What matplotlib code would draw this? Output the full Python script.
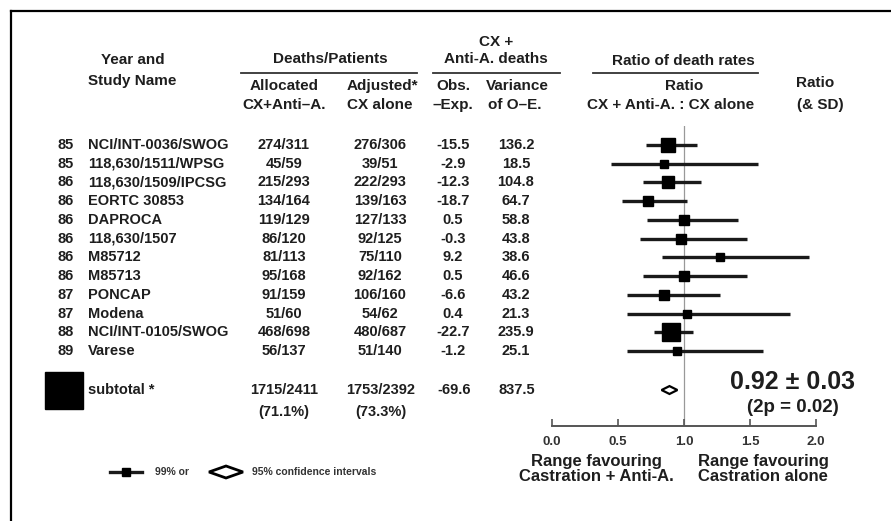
import matplotlib.pyplot as plt
import matplotlib.transforms as mtransforms
from matplotlib.patches import Rectangle, Polygon

plt.rcParams['font.family'] = ['Liberation Sans', 'DejaVu Sans']
plt.rcParams['font.weight'] = 'bold'

# data
years = ["85", "85", "86", "86", "86", "86", "86", "86", "87", "87", "88", "89"]
studies = ["NCI/INT-0036/SWOG", "118,630/1511/WPSG", "118,630/1509/IPCSG", "EORTC 30853",
           "DAPROCA", "118,630/1507", "M85712", "M85713", "PONCAP", "Modena",
           "NCI/INT-0105/SWOG", "Varese"]
allocated = ["274/311", "45/59", "215/293", "134/164", "119/129", "86/120", "81/113",
             "95/168", "91/159", "51/60", "468/698", "56/137"]
adjusted = ["276/306", "39/51", "222/293", "139/163", "127/133", "92/125", "75/110",
            "92/162", "106/160", "54/62", "480/687", "51/140"]
obs_exp = [-15.5, -2.9, -12.3, -18.7, 0.5, -0.3, 9.2, 0.5, -6.6, 0.4, -22.7, -1.2]
variance = [136.2, 18.5, 104.8, 64.7, 58.8, 43.8, 38.6, 46.6, 43.2, 21.3, 235.9, 25.1]
ratio = [0.88, 0.85, 0.88, 0.73, 1.00, 0.98, 1.27, 1.00, 0.85, 1.02, 0.90, 0.95]
ci_lo = [0.71, 0.45, 0.69, 0.53, 0.72, 0.67, 0.83, 0.69, 0.57, 0.57, 0.77, 0.57]
ci_hi = [1.10, 1.56, 1.13, 1.02, 1.41, 1.48, 1.95, 1.48, 1.27, 1.80, 1.07, 1.60]

sub_alloc = ["1715/2411", "(71.1%)"]
sub_adj = ["1753/2392", "(73.3%)"]
sub_oe = -69.6
sub_var = 837.5
sub_lo, sub_hi = 0.83, 0.95
sub_text = ["0.92 \u00b1 0.03", "(2p = 0.02)"]
ticks = [0.0, 0.5, 1.0, 1.5, 2.0]

W, H = 891, 521
fig = plt.figure(figsize=(W / 100, H / 100), dpi=100)

# overlay in pixel coordinates for the table text
bg = fig.add_axes([0, 0, 1, 1])
bg.set_xlim(0, W)
bg.set_ylim(H, 0)
bg.axis('off')

# forest plot axes
ax = fig.add_axes([552 / W, 1 - 426 / H, 264 / W, 300 / H])
ax.set_xlim(0, 2)
ax.set_ylim(15.0, -1.014)
ax.patch.set_alpha(0)
for s in ['left', 'right', 'top']:
    ax.spines[s].set_visible(False)
ax.spines['bottom'].set_color('#555555')
ax.spines['bottom'].set_linewidth(1.4)
ax.set_yticks([])
ax.set_xticks(ticks)
ax.set_xticklabels([f"{t:.1f}" for t in ticks])
ax.tick_params(axis='x', direction='in', length=5, width=1.2, color='#555555',
               labelsize=9.5, labelcolor='#333333', pad=7)

rows = list(range(len(studies)))
sub_row = 13.08

ax.axvline(1.0, color='#999999', lw=0.9, zorder=0)
ax.hlines(rows, ci_lo, ci_hi, color='#1a1a1a', lw=2.4, zorder=2)
for r, x, v in zip(rows, ratio, variance):
    side_px = 2.7 + v ** 0.5
    ax.plot(x, r, marker='s', ms=side_px * 0.72, color='black', mec='black', zorder=3)

mid = (sub_lo + sub_hi) / 2
h = 0.21
ax.add_patch(Polygon([(sub_lo, sub_row), (mid, sub_row - h), (sub_hi, sub_row), (mid, sub_row + h)],
                     closed=True, facecolor='white', edgecolor='black', lw=1.6, zorder=3))

# text in table: x in pixels, y in row units
tr = mtransforms.blended_transform_factory(bg.transData, ax.transData)
tc = '#1e1e1e'
fs = 10.5
for r in rows:
    bg.text(58, r, years[r], transform=tr, ha='left', va='center', fontsize=fs, color=tc)
    bg.text(88, r, studies[r], transform=tr, ha='left', va='center', fontsize=fs, color=tc)
    bg.text(284, r, allocated[r], transform=tr, ha='center', va='center', fontsize=fs, color=tc)
    bg.text(380, r, adjusted[r], transform=tr, ha='center', va='center', fontsize=fs, color=tc)
    bg.text(453, r, f"{obs_exp[r]:.1f}", transform=tr, ha='center', va='center', fontsize=fs, color=tc)
    bg.text(516, r, f"{variance[r]:.1f}", transform=tr, ha='center', va='center', fontsize=fs, color=tc)

# subtotal row
bg.add_patch(Rectangle((45, 372), 38, 37, facecolor='black', edgecolor='black'))
bg.text(88, sub_row, "subtotal *", transform=tr, ha='left', va='center', fontsize=fs, color=tc)
bg.text(284, sub_row, sub_alloc[0], transform=tr, ha='center', va='center', fontsize=fs, color=tc)
bg.text(284, 412, sub_alloc[1], ha='center', va='center', fontsize=fs, color=tc)
bg.text(381, sub_row, sub_adj[0], transform=tr, ha='center', va='center', fontsize=fs, color=tc)
bg.text(381, 412, sub_adj[1], ha='center', va='center', fontsize=fs, color=tc)
bg.text(454, sub_row, f"{sub_oe:.1f}", transform=tr, ha='center', va='center', fontsize=fs, color=tc)
bg.text(517, sub_row, f"{sub_var:.1f}", transform=tr, ha='center', va='center', fontsize=fs, color=tc)
bg.text(793, 382, sub_text[0], ha='center', va='center', fontsize=18, color=tc)
bg.text(793, 408, sub_text[1], ha='center', va='center', fontsize=13.5, color=tc)

# headers
hs = 11
bg.text(133, 60, "Year and", ha='center', va='center', fontsize=hs, color=tc)
bg.text(132, 81, "Study Name", ha='center', va='center', fontsize=hs, color=tc)
bg.text(330, 59, "Deaths/Patients", ha='center', va='center', fontsize=hs, color=tc)
bg.text(284, 86, "Allocated", ha='center', va='center', fontsize=hs, color=tc)
bg.text(284, 105, "CX+Anti\u2013A.", ha='center', va='center', fontsize=hs, color=tc)
bg.text(382, 86, "Adjusted*", ha='center', va='center', fontsize=hs, color=tc)
bg.text(380, 105, "CX alone", ha='center', va='center', fontsize=hs, color=tc)
bg.text(496, 42, "CX +", ha='center', va='center', fontsize=hs, color=tc)
bg.text(496, 59, "Anti-A. deaths", ha='center', va='center', fontsize=hs, color=tc)
bg.text(453, 86, "Obs.", ha='center', va='center', fontsize=hs, color=tc)
bg.text(453, 105, "\u2013Exp.", ha='center', va='center', fontsize=hs, color=tc)
bg.text(517, 86, "Variance", ha='center', va='center', fontsize=hs, color=tc)
bg.text(515, 105, "of O\u2013E.", ha='center', va='center', fontsize=hs, color=tc)
bg.text(683, 61, "Ratio of death rates", ha='center', va='center', fontsize=hs, color=tc)
bg.text(684, 86, "Ratio", ha='center', va='center', fontsize=hs, color=tc)
bg.text(671, 105, "CX + Anti-A. : CX alone", ha='center', va='center', fontsize=hs, color=tc)
bg.text(815, 83, "Ratio", ha='center', va='center', fontsize=hs, color=tc)
bg.text(820, 105, "(& SD)", ha='center', va='center', fontsize=hs, color=tc)
for x0, x1 in [(241, 417), (433, 560), (593, 758)]:
    bg.plot([x0, x1], [73, 73], color='#333333', lw=1.3)

# axis captions
bg.text(596, 469, "Range favouring\nCastration + Anti-A.", ha='center', va='center',
        fontsize=12, color=tc, linespacing=1.0)
bg.text(763, 469, "Range favouring\nCastration alone", ha='center', va='center',
        fontsize=12, color=tc, linespacing=1.0)

# legend
bg.plot([110, 142], [472, 472], color='#1a1a1a', lw=2.4)
bg.plot(126, 472, marker='s', ms=6, color='black')
bg.text(155, 472, "99% or", ha='left', va='center', fontsize=7.5, color='#333333')
bg.add_patch(Polygon([(209, 472), (226, 466), (243, 472), (226, 478)], closed=True,
                     facecolor='white', edgecolor='black', lw=2))
bg.text(252, 472, "95% confidence intervals", ha='left', va='center', fontsize=7.5, color='#333333')

# frame (left and top edges)
bg.plot([10.5, 10.5], [H, 10.5], color='black', lw=1.6)
bg.plot([10.5, W], [10.5, 10.5], color='black', lw=1.6)

fig.savefig("out.png", dpi=100)
